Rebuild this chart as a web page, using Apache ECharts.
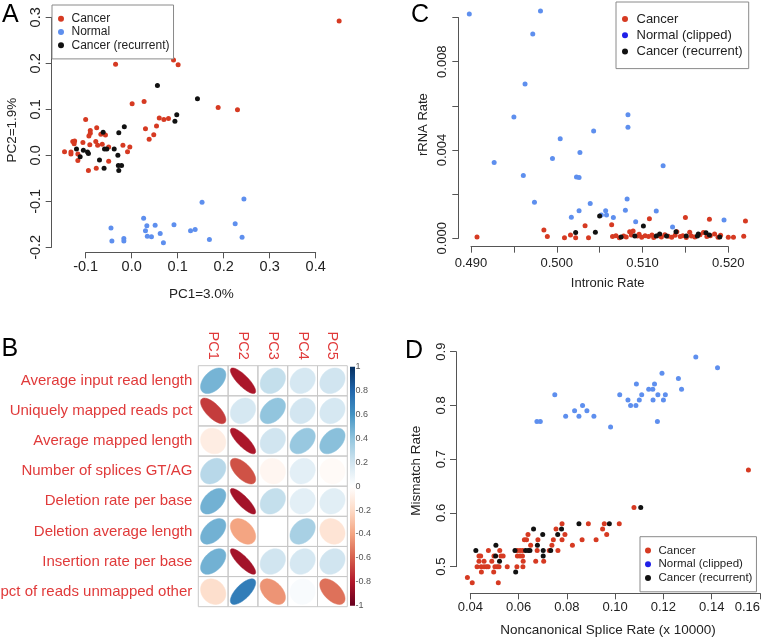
<!DOCTYPE html>
<html><head><meta charset="utf-8">
<script src="https://cdn.jsdelivr.net/npm/echarts@6/dist/echarts.min.js"></script>
<style>html,body{margin:0;padding:0;background:#fff}#c{width:762px;height:640px}</style>
</head><body><div id="c"></div>
<script>
// ---------------- DATA ----------------
// Panel A: PCA
const aCancer = [[0.451,0.292],[0.086,0.303],[0.091,0.207],[0.101,0.197],[-0.035,0.198],[0.027,0.117],[0.001,0.112],[0.188,0.104],[0.230,0.099],[0.060,0.081],[0.070,0.078],[0.080,0.080],[-0.100,0.078],[0.030,0.058],[0.054,0.064],[0.048,0.045],[0.038,0.035],[-0.076,0.060],[-0.090,0.054],[-0.090,0.048],[-0.093,0.042],[-0.067,0.046],[-0.057,0.044],[-0.128,0.030],[-0.124,0.031],[-0.125,0.025],[-0.106,0.028],[-0.091,0.023],[-0.078,0.030],[-0.074,0.022],[-0.064,0.024],[-0.050,0.018],[-0.019,0.022],[-0.004,0.018],[-0.009,0.008],[-0.146,0.008],[-0.132,0.007],[-0.132,0.003],[-0.117,0.003],[-0.117,-0.011],[-0.094,-0.033],[-0.077,-0.028],[-0.050,-0.013]];
const aNormal = [[-0.045,-0.158],[-0.043,-0.186],[-0.017,-0.181],[-0.017,-0.186],[0.026,-0.137],[0.033,-0.153],[0.030,-0.164],[0.051,-0.152],[0.034,-0.176],[0.043,-0.177],[0.062,-0.170],[0.069,-0.190],[0.092,-0.151],[0.128,-0.164],[0.138,-0.161],[0.153,-0.102],[0.169,-0.183],[0.225,-0.149],[0.244,-0.095],[0.240,-0.178]];
const aRecurrent = [[0.056,0.152],[0.143,0.123],[0.098,0.088],[0.094,0.074],[-0.016,0.062],[-0.028,0.049],[-0.062,0.050],[-0.059,0.014],[-0.054,0.014],[-0.038,0.014],[-0.120,0.014],[-0.105,0.011],[-0.096,0.007],[-0.094,0.004],[-0.112,-0.003],[-0.070,-0.010],[-0.030,0.000],[-0.029,-0.022],[-0.022,-0.022],[-0.028,-0.033],[-0.060,-0.028]];

// Panel B: correlation matrix
const bRows = ['Average input read length','Uniquely mapped reads pct','Average mapped length','Number of splices GT/AG','Deletion rate per base','Deletion average length','Insertion rate per base','pct of reads unmapped other'];
const bCols = ['PC1','PC2','PC3','PC4','PC5'];
const bValues = [
  [0.47,-0.82,0.24,0.18,0.20],
  [-0.70,0.18,0.40,0.19,0.18],
  [-0.10,-0.82,0.20,0.38,0.42],
  [0.28,-0.64,-0.05,0.12,-0.03],
  [0.48,-0.84,0.24,0.12,0.13],
  [0.48,-0.40,0.00,0.33,-0.15],
  [0.48,-0.84,0.20,0.18,0.20],
  [-0.18,0.70,-0.45,0.03,-0.55]
];
const cbTicks = [-1,-0.8,-0.6,-0.4,-0.2,0,0.2,0.4,0.6,0.8,1];

// Panel C: intronic vs rRNA rate
const cCancer = [[0.4907,0.00006],[0.4985,0.00038],[0.4989,0.00008],[0.5009,0.00003],[0.5016,0.00015],[0.5022,0.00003],[0.5033,0.00057],[0.5037,0.00003],[0.5064,0.00062],[0.5108,0.00089],[0.5150,0.00094],[0.5178,0.00086],[0.5220,0.00078],[0.5218,0.00009],[0.5200,0.00005],[0.5206,0.00005],
  [0.5065,0.00008],[0.5069,0.00012],[0.5073,0.00003],[0.5078,0.00010],[0.5081,0.00006],[0.5085,0.00030],[0.5087,0.00015],[0.5089,0.00033],[0.5094,0.00010],[0.5096,0.00018],[0.5099,0.00005],[0.5103,0.00012],[0.5107,0.00008],[0.5111,0.00015],[0.5113,0.00004],[0.5118,0.00012],[0.5122,0.00006],[0.5126,0.00016],[0.5130,0.00009],[0.5134,0.00005],[0.5138,0.00014],[0.5140,0.00030],[0.5144,0.00008],[0.5147,0.00012],[0.5151,0.00004],[0.5155,0.00028],[0.5157,0.00010],[0.5161,0.00006],[0.5167,0.00016],[0.5171,0.00026],[0.5175,0.00008],[0.5179,0.00012],[0.5184,0.00020],[0.5188,0.00005],[0.5191,0.00014]];
const cNormal = [[0.4898,0.01016],[0.4981,0.01029],[0.4972,0.00925],[0.4963,0.00699],[0.4950,0.00549],[0.4927,0.00343],[0.4961,0.00284],[0.4974,0.00163],[0.5004,0.00451],[0.4995,0.00361],[0.5027,0.00389],[0.5023,0.00278],[0.5026,0.00275],[0.5043,0.00486],[0.5083,0.00560],[0.5083,0.00503],[0.5124,0.00329],[0.5039,0.00158],[0.5082,0.00178],[0.5026,0.00125],[0.5017,0.00095],[0.5052,0.00106],[0.5057,0.00125],[0.5058,0.00106],[0.5066,0.00094],[0.5080,0.00127],[0.5092,0.00075],[0.5116,0.00124],[0.5135,0.00051],[0.5195,0.00083]];
const cRecurrent = [[0.5050,0.00101],[0.5101,0.00056],[0.5022,0.00026],[0.5045,0.00027],[0.5075,0.00006],[0.5091,0.00010],[0.5116,0.00010],[0.5120,0.00020],[0.5128,0.00010],[0.5139,0.00030],[0.5151,0.00010],[0.5164,0.00010],[0.5165,0.00020],[0.5174,0.00025],[0.5178,0.00015],[0.5190,0.00006]];

// Panel D: noncanonical splice rate vs mismatch rate
const dCancer = [[0.0408,0.47],[0.0516,0.47],[0.0388,0.48],[0.0446,0.49],[0.0497,0.49],
  [0.0428,0.50],[0.0445,0.50],[0.0457,0.50],[0.0467,0.50],[0.0474,0.50],[0.0502,0.50],[0.0511,0.50],[0.0519,0.50],[0.0553,0.50],[0.0593,0.50],[0.0618,0.50],
  [0.0436,0.51],[0.0457,0.51],[0.0489,0.51],[0.0619,0.51],[0.0671,0.51],[0.0704,0.51],
  [0.0436,0.52],[0.0443,0.52],[0.0498,0.52],[0.0527,0.52],[0.0536,0.52],[0.0595,0.52],[0.0606,0.52],[0.0616,0.52],
  [0.0475,0.53],[0.0522,0.53],[0.0595,0.53],[0.0606,0.53],[0.0617,0.53],[0.0677,0.53],[0.0727,0.53],[0.0763,0.53],
  [0.0650,0.54],[0.0738,0.54],[0.0823,0.54],
  [0.0624,0.55],[0.0633,0.55],[0.0680,0.55],[0.0744,0.55],[0.0780,0.55],[0.0863,0.55],[0.0921,0.55],
  [0.0639,0.56],[0.0792,0.56],[0.0965,0.56],[0.0755,0.57],[0.0948,0.57],
  [0.0780,0.58],[0.0889,0.58],[0.0955,0.58],[0.1017,0.58],[0.1078,0.61],[0.1552,0.68]];
const dNormal = [[0.0676,0.77],[0.0690,0.77],[0.0750,0.82],[0.0795,0.78],[0.0832,0.79],[0.0865,0.80],[0.0850,0.78],[0.0883,0.79],[0.0912,0.78],[0.0981,0.76],[0.1019,0.82],[0.1053,0.81],[0.1064,0.80],[0.1086,0.80],[0.1100,0.81],[0.1110,0.82],[0.1088,0.84],[0.1139,0.83],[0.1156,0.83],[0.1163,0.84],[0.1157,0.81],[0.1177,0.82],[0.1200,0.81],[0.1208,0.82],[0.1194,0.86],[0.1175,0.77],[0.1262,0.85],[0.1275,0.83],[0.1334,0.89],[0.1424,0.87]];
const dRecurrent = [[0.0588,0.49],[0.0521,0.51],[0.0505,0.52],[0.0702,0.52],[0.0423,0.53],[0.0585,0.53],[0.0629,0.53],[0.0640,0.53],[0.0647,0.53],[0.0702,0.53],[0.0733,0.53],[0.0506,0.54],[0.0678,0.54],[0.0700,0.56],[0.0762,0.56],[0.0662,0.57],[0.0778,0.57],[0.0850,0.58],[0.0976,0.58],[0.1106,0.61]];

// ---------------- STYLE ----------------
const FONT = '"Liberation Sans", Arial, Helvetica, sans-serif';
const RED = '#D63A22', BLUE = '#5E8FEE', BLACK = '#111111', LEGBLUE = '#2020E8';
const TXT = '#222', AXC = '#555';
const PAL = ["#67001F","#B2182B","#D6604D","#F4A582","#FDDBC7","#FFFFFF","#D1E5F0","#92C5DE","#4393C3","#2166AC","#053061"];
function hex(c){return [1,3,5].map(i=>parseInt(c.substr(i,2),16));}
function colorFor(v){
  const p=(v+1)/2*10; const i=Math.max(0,Math.min(9,Math.floor(p))); const f=p-i;
  const a=hex(PAL[i]), b=hex(PAL[i+1]);
  return 'rgb('+a.map((x,k)=>Math.round(x+(b[k]-x)*f)).join(',')+')';
}
function lin(p0,v0,p1,v1){const k=(p1-p0)/(v1-v0);return {toPx:v=>p0+(v-v0)*k,toV:p=>v0+(p-p0)/k};}

const grids=[], xAxes=[], yAxes=[], series=[], legends=[];
const hiddenAxis = (gi, min, max) => ({gridIndex:gi,type:'value',show:false,min,max});

function panel(o){
  const g0 = grids.length;
  grids.push({left:o.L,top:o.T,width:o.R-o.L,height:o.B-o.T,outerBoundsMode:'none'});
  const xi0 = xAxes.length, yi0 = yAxes.length;
  xAxes.push({gridIndex:g0,type:'value',min:o.xm.toV(o.L),max:o.xm.toV(o.R),
    axisLine:{show:false},axisTick:{show:false},axisLabel:{show:false},splitLine:{show:false},
    name:o.xName,nameLocation:'middle',nameGap:o.xGap,nameTextStyle:{fontSize:o.nfs,color:TXT,fontFamily:FONT}});
  yAxes.push({gridIndex:g0,type:'value',min:o.ym.toV(o.B),max:o.ym.toV(o.T),
    axisLine:{show:false},axisTick:{show:false},axisLabel:{show:false},splitLine:{show:false},
    name:o.yName,nameLocation:'middle',nameGap:o.yGap,nameTextStyle:{fontSize:o.nfs,color:TXT,fontFamily:FONT}});
  const g1 = grids.length;
  const xl = o.xm.toPx(o.xt[0]), xr = o.xm.toPx(o.xt[1]);
  grids.push({left:xl,top:o.T,width:xr-xl,height:o.B-o.T,outerBoundsMode:'none'});
  xAxes.push({gridIndex:g1,type:'value',min:o.xt[0],max:o.xt[1],interval:o.xt[2],position:'bottom',
    axisLine:{show:true,onZero:false,lineStyle:{color:AXC,width:1}},
    axisTick:{show:true,length:6,lineStyle:{color:AXC}},splitLine:{show:false},
    axisLabel:{fontSize:o.fs,color:TXT,fontFamily:FONT,margin:o.xm_,showMinLabel:true,showMaxLabel:true,formatter:o.xfmt,alignMaxLabel:o.alignMax||null}});
  yAxes.push(hiddenAxis(g1,0,1));
  const g2 = grids.length;
  const yt = o.ym.toPx(o.yt[1]), yb = o.ym.toPx(o.yt[0]);
  grids.push({left:o.L,top:yt,width:20,height:yb-yt,outerBoundsMode:'none'});
  xAxes.push(hiddenAxis(g2,0,1));
  yAxes.push({gridIndex:g2,type:'value',min:o.yt[0],max:o.yt[1],interval:o.yt[2],position:'left',
    axisLine:{show:true,onZero:false,lineStyle:{color:AXC,width:1}},
    axisTick:{show:true,length:6,lineStyle:{color:AXC}},splitLine:{show:false},
    axisLabel:{fontSize:o.fs,color:TXT,fontFamily:FONT,rotate:90,margin:o.ym_,showMinLabel:true,showMaxLabel:true,formatter:o.yfmt}});
  o.series.forEach(s=>{
    series.push({type:'scatter',name:s.name,xAxisIndex:xi0,yAxisIndex:yi0,data:s.data,symbol:'circle',symbolSize:5,
      itemStyle:{color:s.color,opacity:1},emphasis:{disabled:true},silent:true,clip:false});
  });
}

panel({L:51.67,R:351,T:8,B:252.33,
  xm:lin(85.67,-0.1,315.67,0.4), ym:lin(247.33,-0.2,17.33,0.3),
  xt:[-0.1,0.4,0.1], yt:[-0.2,0.3,0.1],
  xfmt:v=>v.toFixed(1), yfmt:v=>v.toFixed(1),
  fs:14.5, nfs:13.5, xm_:7, ym_:8, xGap:35, yGap:32,
  xName:'PC1=3.0%', yName:'PC2=1.9%',
  series:[{name:'Cancer',data:aCancer,color:RED},{name:'Normal',data:aNormal,color:BLUE},{name:'Cancer (recurrent)',data:aRecurrent,color:BLACK}]});
panel({L:458.33,R:757,T:2.5,B:246.67,
  xm:lin(471,0.49,728.3,0.52), ym:lin(238.33,0,61.67,0.008),
  xt:[0.49,0.52,0.005], yt:[0,0.01,0.002],
  xfmt:v=>(Math.round(v*1000)%10===0?v.toFixed(3):''),
  yfmt:v=>(Math.round(v*1000)%4===0?v.toFixed(3):''),
  fs:13, nfs:13, xm_:10, ym_:9, xGap:30, yGap:28.5,
  xName:'Intronic Rate', yName:'rRNA Rate',
  series:[{name:'Cancer',data:cCancer,color:RED},{name:'Normal (clipped)',data:cNormal,color:BLUE},{name:'Cancer (recurrent)',data:cRecurrent,color:BLACK}]});
panel({L:456,R:760,T:348,B:593.33,
  xm:lin(470.3,0.04,760,0.16), ym:lin(566.67,0.5,351.67,0.9),
  xt:[0.04,0.16,0.02], yt:[0.5,0.9,0.1],
  xfmt:v=>v.toFixed(2), yfmt:v=>v.toFixed(1), alignMax:'right',
  fs:13, nfs:13.5, xm_:8, ym_:8.5, xGap:30, yGap:32.5,
  xName:'Noncanonical Splice Rate (x 10000)', yName:'Mismatch Rate',
  series:[{name:'Cancer',data:dCancer,color:RED},{name:'Normal (clipped)',data:dNormal,color:BLUE},{name:'Cancer (recurrent)',data:dRecurrent,color:BLACK}]});

// Panel B
const gB = grids.length;
grids.push({left:198.3,top:365.7,width:149,height:241,outerBoundsMode:'none'});
const xiB = xAxes.length, yiB = yAxes.length;
xAxes.push({gridIndex:gB,type:'category',data:bCols,position:'top',axisLine:{show:false},axisTick:{show:false},splitLine:{show:false},
  axisLabel:{rotate:90,color:'#E03A3A',fontSize:14.5,fontFamily:FONT,margin:6,interval:0}});
yAxes.push({gridIndex:gB,type:'category',data:bRows,inverse:true,axisLine:{show:false},axisTick:{show:false},splitLine:{show:false},
  axisLabel:{color:'#E03A3A',fontSize:15,fontFamily:FONT,margin:6,interval:0}});
const bData=[];
bValues.forEach((row,r)=>row.forEach((v,c)=>bData.push([c,r,v])));
series.push({type:'custom',xAxisIndex:xiB,yAxisIndex:yiB,data:bData,silent:true,
  renderItem:function(params,api){
    const ci=api.value(0), ri=api.value(1), v=api.value(2);
    const ctr=api.coord([ci,ri]); const sz=api.size([1,1]); const w=sz[0], h=sz[1];
    const a=Math.acos(Math.max(-1,Math.min(1,v)));
    const pts=[];
    for(let k=0;k<99;k++){const t=2*Math.PI*k/98;pts.push([ctr[0]+Math.cos(t+a/2)/2*0.85*w, ctr[1]-Math.cos(t-a/2)/2*0.85*h]);}
    return {type:'group',children:[
      {type:'rect',shape:{x:ctr[0]-w/2,y:ctr[1]-h/2,width:w,height:h},style:{fill:null,stroke:'#c8c8c8',lineWidth:1}},
      {type:'polygon',shape:{points:pts},style:{fill:colorFor(v),stroke:colorFor(v),lineWidth:0.5}}
    ]};
  }});
const gCB = grids.length;
grids.push({left:350,top:366.7,width:5,height:239,outerBoundsMode:'none'});
const xiCB = xAxes.length, yiCB = yAxes.length;
xAxes.push(hiddenAxis(gCB,0,1));
yAxes.push({gridIndex:gCB,type:'value',min:cbTicks[0],max:cbTicks[cbTicks.length-1],interval:0.2,position:'right',
  axisLine:{show:false},axisTick:{show:false},splitLine:{show:false},
  axisLabel:{margin:0.5,fontSize:9,color:'#555',fontFamily:FONT,showMinLabel:true,showMaxLabel:true,formatter:v=>String(parseFloat(v.toFixed(1)))}});
series.push({type:'custom',xAxisIndex:xiCB,yAxisIndex:yiCB,data:[[0,cbTicks[0],1,cbTicks[cbTicks.length-1]]],silent:true,
  renderItem:function(params,api){
    const p0=api.coord([api.value(0),api.value(1)]), p1=api.coord([api.value(2),api.value(3)]);
    return {type:'rect',shape:{x:p0[0],y:p1[1],width:p1[0]-p0[0],height:p0[1]-p1[1]},
      style:{fill:{type:'linear',x:0,y:1,x2:0,y2:0,colorStops:PAL.map((c,i)=>({offset:i/10,color:c}))}}};
  }});

function legend(left,top,pad,fs,lh,iw,items){
  return {orient:'vertical',left,top,padding:pad,itemWidth:iw,itemHeight:6,itemGap:0,icon:'circle',
    borderColor:'#8a8a8a',borderWidth:1,backgroundColor:'#fff',selectedMode:false,
    textStyle:{fontSize:fs,lineHeight:lh,color:TXT,fontFamily:FONT},data:items};
}
legends.push(legend(52,5,[7,4,7,6],12,13.3,11,['Cancer','Normal','Cancer (recurrent)']));
legends.push(legend(616,2,[9,6,9,6],13,16.2,13,['Cancer',{name:'Normal (clipped)',itemStyle:{color:LEGBLUE}},'Cancer (recurrent)']));
legends.push(legend(640,536.7,[7,4,7,5],11.5,13.7,11,['Cancer',{name:'Normal (clipped)',itemStyle:{color:LEGBLUE}},'Cancer (recurrent)']));

const chart = echarts.init(document.getElementById('c'),null,{renderer:'canvas'});
chart.setOption({
  animation:false, backgroundColor:'#fff',
  grid:grids, xAxis:xAxes, yAxis:yAxes, series, legend:legends,
  graphic:[
    {type:'text',left:2,top:2.5,style:{text:'A',fontSize:25,fontFamily:FONT,fill:'#000'}},
    {type:'text',left:1.5,top:337,style:{text:'B',fontSize:25,fontFamily:FONT,fill:'#000'}},
    {type:'text',left:411,top:2.5,style:{text:'C',fontSize:25,fontFamily:FONT,fill:'#000'}},
    {type:'text',left:405,top:339,style:{text:'D',fontSize:25,fontFamily:FONT,fill:'#000'}}
  ]
});
</script></body></html>
